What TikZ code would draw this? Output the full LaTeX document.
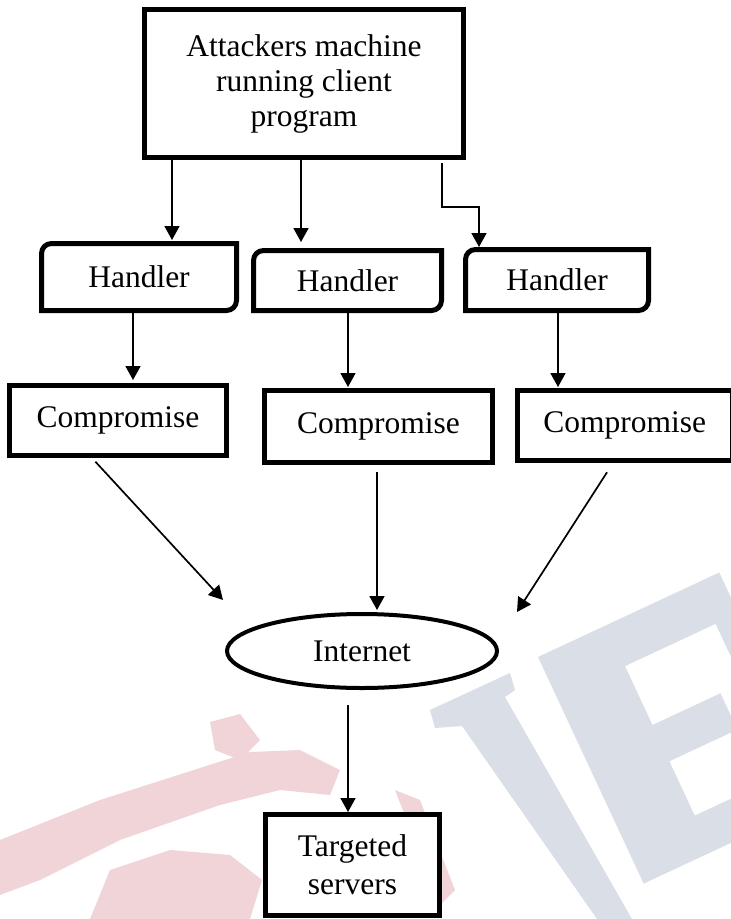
\documentclass[tikz,border=0pt]{standalone}
\usepackage{fontspec}
\setmainfont{Liberation Serif}
\usetikzlibrary{arrows.meta,shapes.geometric}
\definecolor{wmblue}{RGB}{217,222,231}
\definecolor{wmpink}{RGB}{241,212,216}
\newcommand\rdbox[1]{\draw[bdr] ([yshift=-10pt]#1.north west) .. controls ([yshift=-4.5pt]#1.north west) and ([xshift=4.5pt]#1.north west) .. ([xshift=10pt]#1.north west) -- (#1.north east) -- ([yshift=10pt]#1.south east) .. controls ([yshift=4.5pt]#1.south east) and ([xshift=-4.5pt]#1.south east) .. ([xshift=-10pt]#1.south east) -- (#1.south west) -- cycle;}
\begin{document}
\begin{tikzpicture}[x=1pt,y=-1pt,
  txt/.style={font=\fontsize{31.5}{35}\selectfont, inner sep=0pt, outer sep=0pt},
  box/.style={txt, draw, fill=white, line width=5pt, outer sep=2.5pt},
  bdr/.style={draw, line width=5pt},
  arr/.style={line width=1.7pt, -{Triangle[width=15pt,length=14pt]}}]
\useasboundingbox (0,0) rectangle (731,919);
\fill[white] (0,0) rectangle (731,919);
% watermark
\fill[wmblue] (430,710) -- (510,673) -- (515,690) -- (505,697) -- (632,919) -- (597,919) -- (462,726) -- (435,728) -- cycle;
\begin{scope}[shift={(538,657)}, rotate=25]
  \fill[wmblue] (0,0) -- (200,0) -- (200,80) -- (175,80) -- (175,45) -- (75,45) -- (75,110) -- (150,110) -- (150,150) -- (75,150) -- (75,210) -- (185,210) -- (185,175) -- (210,175) -- (210,250) -- (0,250) -- cycle;
\end{scope}
\fill[wmpink] (0,840) -- (100,800) -- (200,768) -- (250,752) -- (300,750) -- (340,770) -- (330,795) -- (280,790) -- (220,805) -- (120,840) -- (40,880) -- (0,895) -- cycle;
\fill[wmpink] (90,919) -- (110,870) -- (170,850) -- (230,855) -- (262,880) -- (250,919) -- cycle;
\fill[wmpink] (210,722) -- (240,714) -- (260,740) -- (240,760) -- (215,750) -- cycle;
\fill[wmpink] (395,790) -- (420,800) -- (455,890) -- (440,905) -- cycle;
% nodes
\node[box, minimum width=319pt, minimum height=148pt, align=center] (top) at (304,83.5) {Attackers machine\\running client\\program};
\node[txt, minimum width=195pt, minimum height=67pt] (h1) at (139,277) {Handler};
\node[txt, minimum width=188pt, minimum height=60pt] (h2) at (347.5,280.5) {Handler};
\node[txt, minimum width=183pt, minimum height=61pt] (h3) at (557,280) {Handler};
\rdbox{h1}
\rdbox{h2}
\rdbox{h3}
\node[box, minimum width=217pt, minimum height=70pt] (c1) at (118,420.5) {Compromise};
\node[box, minimum width=228pt, minimum height=72pt] (c2) at (378.5,426.5) {Compromise};
\node[box, minimum width=214.5pt, minimum height=70pt] (c3) at (624.75,425.5) {Compromise};
\node[txt, draw, fill=white, ellipse, line width=4pt, outer sep=2pt, minimum width=270pt, minimum height=74pt] (int) at (362,651) {Internet};
\node[box, minimum width=174pt, minimum height=101pt, align=center, font=\fontsize{31.5}{38}\selectfont] (tgt) at (352.5,865) {Targeted\\servers};
\coordinate (p1) at (223,600);
\coordinate (p3) at (517,612);
% connectors
\draw[arr, shorten >=3.5pt] (top.south -| 172,0) -- (h1.north -| 172,0);
\draw[arr, shorten >=8.5pt] (top.south -| 301,0) -- (h2.north -| 301,0);
\draw[arr, shorten <=3pt, shorten >=2.5pt] (top.south -| 442,0) -- ++(0,47) -| (h3.north -| 479,0);
\draw[arr, shorten >=3pt] (h1.south -| 133,0) -- (c1.north -| 133,0);
\draw[arr, shorten >=1pt] (h2.south -| 348,0) -- (c2.north -| 348,0);
\draw[arr, shorten >=1pt] (h3.south -| 558,0) -- (c3.north -| 558,0);
\draw[arr, shorten <=5pt] (c1.south -| 92,0) -- (p1);
\draw[arr, shorten <=7pt, shorten >=2pt] (c2.south -| 377,0) -- (int.north -| 377,0);
\draw[arr, shorten <=11pt] (c3.south -| 613,0) -- (p3);
\draw[arr, shorten <=15pt] (int.south -| 348,0) -- (tgt.north -| 348,0);
\end{tikzpicture}
\end{document}
